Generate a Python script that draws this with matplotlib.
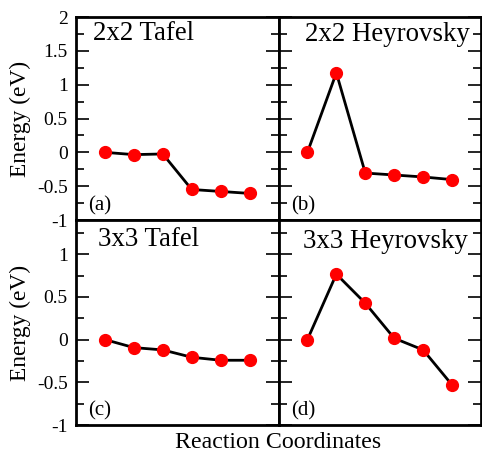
import matplotlib.pyplot as plt
from matplotlib.ticker import MultipleLocator, FuncFormatter

plt.rcParams['font.family'] = ['Liberation Serif', 'DejaVu Serif']
plt.rcParams['axes.unicode_minus'] = False

steps = [1, 2, 3, 4, 5, 6]
tafel_2x2 = [0.0, -0.034, -0.024, -0.549, -0.578, -0.607]
heyrovsky_2x2 = [0.0, 1.175, -0.306, -0.335, -0.364, -0.403]
tafel_3x3 = [0.0, -0.094, -0.121, -0.207, -0.242, -0.242]
heyrovsky_3x3 = [0.0, 0.766, 0.426, 0.016, -0.121, -0.531]

titles = ['2x2 Tafel', '2x2 Heyrovsky', '3x3 Tafel', '3x3 Heyrovsky']
tags = ['(a)', '(b)', '(c)', '(d)']
series = [tafel_2x2, heyrovsky_2x2, tafel_3x3, heyrovsky_3x3]
# title x offset and baseline height (axes fraction)
title_pos = [(0.085, 0.885), (0.13, 0.88), (0.11, 0.875), (0.12, 0.865)]

fig = plt.figure(figsize=(4.82, 4.54), dpi=100)
left, right = 76 / 482, 481 / 482
top, mid, bot = 1 - 17 / 454, 1 - 220 / 454, 1 - 425 / 454
w = (right - left) / 2

fmt = FuncFormatter(lambda v, p: '%g' % v)

for i in range(4):
    r, c = divmod(i, 2)
    if r == 0:
        ax = fig.add_axes([left + c * w, mid, w, top - mid])
        ax.set_ylim(-1, 2)
    else:
        ax = fig.add_axes([left + c * w, bot, w, mid - bot])
        ax.set_ylim(-1, 1.4)
    ax.set_xlim(0, 7)
    ax.plot(steps, series[i], color='black', lw=2, marker='o', ms=8.5,
            mfc='red', mec='red', zorder=3)
    ax.yaxis.set_major_locator(MultipleLocator(0.5))
    ax.yaxis.set_minor_locator(MultipleLocator(0.25))
    ax.yaxis.set_major_formatter(fmt)
    ax.set_xticks([])
    ax.tick_params(axis='y', which='both', direction='in', left=True, right=True,
                   labelsize=14, width=1.2, pad=6)
    ax.tick_params(axis='y', which='major', length=9.5)
    ax.tick_params(axis='y', which='minor', length=5.5)
    for s in ax.spines.values():
        s.set_linewidth(2)
    if c == 1:
        ax.tick_params(axis='y', labelleft=False)
    else:
        ax.set_ylabel('Energy (eV)', fontsize=16.8, labelpad=4)
    tx, ty = title_pos[i]
    ax.text(tx, ty, titles[i], transform=ax.transAxes, fontsize=19.4,
            va='baseline', ha='left')
    ax.text(0.06, 0.02, tags[i], transform=ax.transAxes, fontsize=15,
            va='bottom', ha='left')

fig.text(278 / 482, 1 / 454, 'Reaction Coordinates', fontsize=17.2, ha='center', va='bottom')

fig.savefig('out.png', dpi=100)
